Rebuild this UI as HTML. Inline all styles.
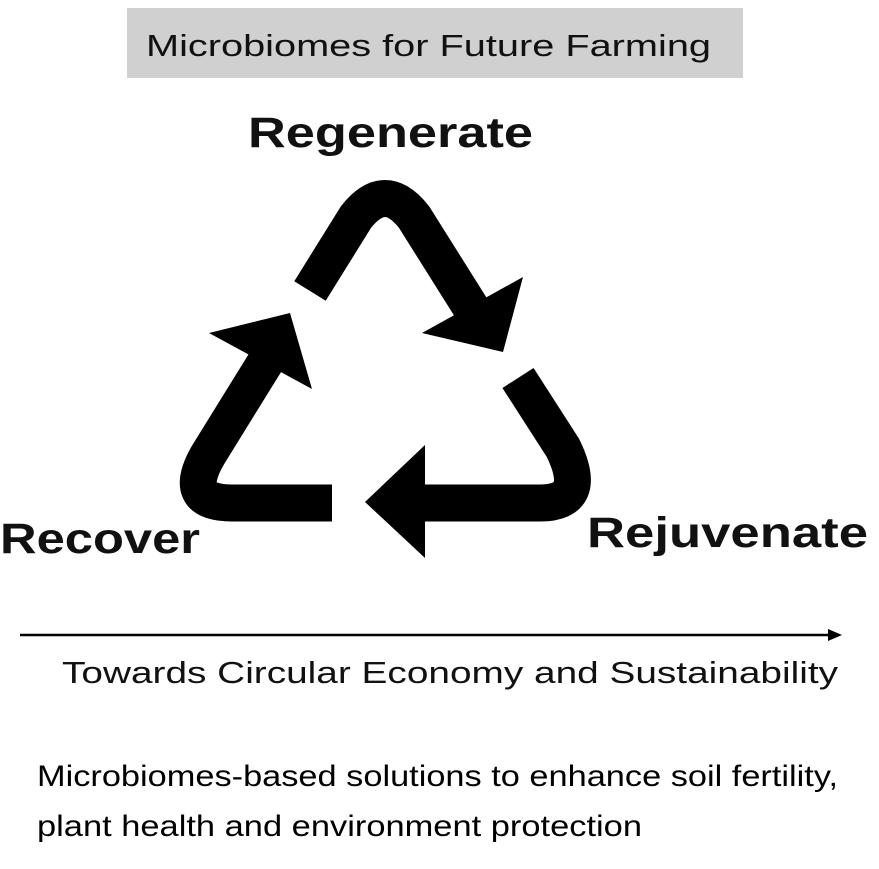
<!DOCTYPE html>
<html><head><style>html,body{margin:0;padding:0;background:#fff;}svg{display:block}</style></head>
<body>
<svg width="879" height="869" viewBox="0 0 879 869" xmlns="http://www.w3.org/2000/svg" font-family="Liberation Sans, sans-serif">
<rect x="127" y="8" width="616" height="70" fill="#d0d0d0"/>
<text x="146" y="56" font-size="31" textLength="565" lengthAdjust="spacingAndGlyphs" fill="#111">Microbiomes for Future Farming</text>
<text x="248" y="147" font-size="43" font-weight="bold" textLength="285" lengthAdjust="spacingAndGlyphs" fill="#111">Regenerate</text>
<text x="0" y="553" font-size="43" font-weight="bold" textLength="200" lengthAdjust="spacingAndGlyphs" fill="#111">Recover</text>
<text x="587" y="547" font-size="43" font-weight="bold" textLength="281" lengthAdjust="spacingAndGlyphs" fill="#111">Rejuvenate</text>
<g fill="none" stroke="#000" stroke-width="37" stroke-linejoin="round">
<path d="M310,291 L356,217 Q385,180 414,217 L480,322"/>
<path d="M518,378 L563,448 Q590,503 540,503 L420,503"/>
<path d="M332,503 L232,503 Q180,503 208,455 L268,358"/>
</g>
<g fill="#000">
<polygon points="523,277 503,352 422,333"/>
<polygon points="425,445 365,502 425,558"/>
<polygon points="209,333 290,313 312,389"/>
</g>
<line x1="20" y1="635" x2="832" y2="635" stroke="#000" stroke-width="2.5"/>
<polygon points="842,635 828,629 828,641" fill="#000"/>
<text x="62" y="683" font-size="31" textLength="776" lengthAdjust="spacingAndGlyphs" fill="#111">Towards Circular Economy and Sustainability</text>
<text x="37" y="786" font-size="30" textLength="801" lengthAdjust="spacingAndGlyphs" fill="#000">Microbiomes-based solutions to enhance soil fertility,</text>
<text x="37" y="836" font-size="30" textLength="605" lengthAdjust="spacingAndGlyphs" fill="#000">plant health and environment protection</text>
</svg>
</body></html>
